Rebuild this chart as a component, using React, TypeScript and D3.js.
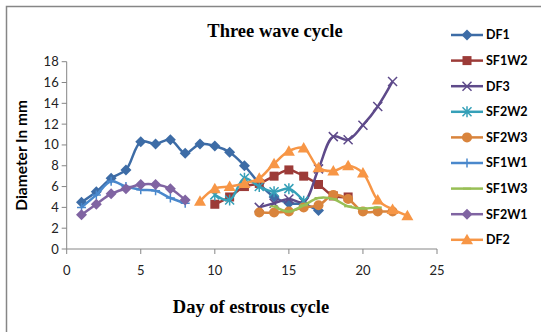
import * as d3 from "d3";
import React from "react";

const days1to8 = [1, 2, 3, 4, 5, 6, 7, 8];

const df1Days = [1, 2, 3, 4, 5, 6, 7, 8, 9, 10, 11, 12, 13, 14, 15, 16, 17];
const df1 = [4.5, 5.5, 6.8, 7.6, 10.3, 10.1, 10.5, 9.2, 10.1, 9.9, 9.3, 8.0, 6.3, 5.0, 4.4, 4.3, 3.7];

const sf1w2Days = [10, 11, 12, 13, 14, 15, 16, 17, 18, 19];
const sf1w2 = [4.3, 5.0, 6.0, 6.3, 7.0, 7.6, 7.0, 6.2, 5.1, 5.0];

const df3Days = [13, 14, 15, 16, 17, 18, 19, 20, 21, 22];
const df3 = [4.0, 4.4, 4.8, 4.5, 7.7, 10.8, 10.5, 11.9, 13.7, 16.1];

const sf2w2Days = [10, 11, 12, 13, 14, 15, 16];
const sf2w2 = [5.2, 4.7, 6.8, 6.0, 5.5, 5.8, 4.6];

const sf2w3Days = [13, 14, 15, 16, 17, 18, 19, 20, 21, 22];
const sf2w3 = [3.5, 3.5, 3.6, 4.0, 4.2, 5.2, 4.8, 3.6, 3.6, 3.6];

const sf1w1 = [4.0, 5.2, 6.5, 6.0, 5.7, 5.6, 4.9, 4.4];

const sf1w3Days = [14, 15, 16, 17, 18, 19, 20, 21];
const sf1w3 = [4.1, 3.6, 4.2, 4.9, 4.8, 4.1, 3.9, 4.0];

const sf2w1 = [3.3, 4.3, 5.3, 5.8, 6.2, 6.2, 5.8, 4.7];

const df2Days = [9, 10, 11, 12, 13, 14, 15, 16, 17, 18, 19, 20, 21, 22, 23];
const df2 = [4.6, 5.8, 6.0, 6.3, 6.8, 8.2, 9.4, 9.7, 7.8, 7.5, 8.0, 7.3, 4.7, 3.8, 3.2];

const xTicks = [0, 5, 10, 15, 20, 25];
const yTicks = [0, 2, 4, 6, 8, 10, 12, 14, 16, 18];

type Marker = "diamond" | "square" | "x" | "star" | "circle" | "plus" | "dash" | "triangle";
interface Series { name: string; days: number[]; vals: number[]; color: string; marker: Marker; }

const series: Series[] = [
  { name: "DF1", days: df1Days, vals: df1, color: "#3d6ca6", marker: "diamond" },
  { name: "SF1W2", days: sf1w2Days, vals: sf1w2, color: "#9c3b38", marker: "square" },
  { name: "DF3", days: df3Days, vals: df3, color: "#5e4a8a", marker: "x" },
  { name: "SF2W2", days: sf2w2Days, vals: sf2w2, color: "#35a0b8", marker: "star" },
  { name: "SF2W3", days: sf2w3Days, vals: sf2w3, color: "#d9843c", marker: "circle" },
  { name: "SF1W1", days: days1to8, vals: sf1w1, color: "#4a88cc", marker: "plus" },
  { name: "SF1W3", days: sf1w3Days, vals: sf1w3, color: "#98bf55", marker: "dash" },
  { name: "SF2W1", days: days1to8, vals: sf2w1, color: "#8064a2", marker: "diamond" },
  { name: "DF2", days: df2Days, vals: df2, color: "#f79646", marker: "triangle" },
];

const W = 541, H = 332;
const m = { left: 66.7, right: 104, top: 61.7, bottom: 83 };
const sans = "Lato, 'Open Sans', sans-serif";
const serif = "'Liberation Serif', 'DejaVu Serif', serif";

function MarkerShape({ type, x, y, color }: { type: Marker; x: number; y: number; color: string }) {
  switch (type) {
    case "diamond":
      return <path d={`M${x},${y - 5.5}L${x + 5.5},${y}L${x},${y + 5.5}L${x - 5.5},${y}Z`} fill={color} />;
    case "square":
      return <rect x={x - 4.5} y={y - 4.5} width={9} height={9} fill={color} />;
    case "triangle":
      return <path d={`M${x},${y - 6}L${x + 6},${y + 4.5}L${x - 6},${y + 4.5}Z`} fill={color} />;
    case "circle":
      return <circle cx={x} cy={y} r={5} fill={color} />;
    case "x":
      return <path d={`M${x - 4.5},${y - 4.5}L${x + 4.5},${y + 4.5}M${x + 4.5},${y - 4.5}L${x - 4.5},${y + 4.5}`} stroke={color} strokeWidth={1.5} />;
    case "star":
      return <path d={`M${x - 4.5},${y - 4.5}L${x + 4.5},${y + 4.5}M${x + 4.5},${y - 4.5}L${x - 4.5},${y + 4.5}M${x},${y - 5.5}L${x},${y + 5.5}`} stroke={color} strokeWidth={1.5} />;
    case "plus":
      return <path d={`M${x},${y - 4.5}L${x},${y + 4.5}M${x - 4.5},${y}L${x + 4.5},${y}`} stroke={color} strokeWidth={1.5} />;
    case "dash":
      return <path d={`M${x - 4},${y}L${x + 4},${y}`} stroke={color} strokeWidth={2} />;
  }
}

export default function App() {
  const x = d3.scaleLinear().domain([0, 25]).range([m.left, W - m.right]);
  const y = d3.scaleLinear().domain([0, 18]).range([H - m.bottom, m.top]);
  const line = d3.line<[number, number]>().x(d => x(d[0])).y(d => y(d[1])).curve(d3.curveCatmullRom.alpha(0.5));
  const axisColor = "#868686";
  const legendY0 = 35, legendStep = 25.6;

  return (
    <svg width={W} height={H} style={{ position: "absolute", left: 0, top: 0, background: "#fff" }}>
      <rect x={6.5} y={6.5} width={W + 4} height={H + 4} fill="none" stroke={axisColor} strokeWidth={1.5} />
      <text x={275} y={37} textAnchor="middle" fontFamily={serif} fontWeight="bold" fontSize={18.5} fill="#000">Three wave cycle</text>

      {/* axes */}
      <line x1={x(0)} x2={x(0)} y1={y(18)} y2={y(0)} stroke={axisColor} strokeWidth={1} />
      <line x1={x(0)} x2={x(25)} y1={y(0)} y2={y(0)} stroke={axisColor} strokeWidth={1} />
      {yTicks.map(t => (
        <g key={t}>
          <line x1={x(0) - 5} x2={x(0)} y1={y(t)} y2={y(t)} stroke={axisColor} />
          <text x={x(0) - 8} y={y(t)} dy="0.35em" textAnchor="end" fontFamily={sans} fontSize={13} fill="#222">{t}</text>
        </g>
      ))}
      {xTicks.map(t => (
        <g key={t}>
          <line x1={x(t)} x2={x(t)} y1={y(0)} y2={y(0) + 5} stroke={axisColor} />
          <text x={x(t)} y={y(0) + 26} textAnchor="middle" fontFamily={sans} fontSize={13} fill="#222">{t}</text>
        </g>
      ))}
      <text transform={`translate(27,${(y(0) + y(18)) / 2}) rotate(-90)`} textAnchor="middle" fontFamily={sans} fontWeight="bold" fontSize={15.5} fill="#000">Diameter In mm</text>
      <text x={251} y={313} textAnchor="middle" fontFamily={serif} fontWeight="bold" fontSize={18.5} fill="#000">Day of estrous cycle</text>

      {series.map(s => {
        const pts = s.days.map((d, i) => [d, s.vals[i]] as [number, number]);
        return (
          <g key={s.name}>
            <path d={line(pts) ?? undefined} fill="none" stroke={s.color} strokeWidth={2.5} strokeLinejoin="round" />
            {pts.map((p, i) => <MarkerShape key={i} type={s.marker} x={x(p[0])} y={y(p[1])} color={s.color} />)}
          </g>
        );
      })}

      {/* legend */}
      {series.map((s, i) => {
        const ly = legendY0 + i * legendStep;
        return (
          <g key={s.name}>
            <line x1={451} x2={483} y1={ly} y2={ly} stroke={s.color} strokeWidth={2.5} />
            <MarkerShape type={s.marker} x={467} y={ly} color={s.color} />
            <text x={486} y={ly} dy="0.35em" fontFamily={sans} fontWeight="bold" fontSize={12.5} fill="#000">{s.name}</text>
          </g>
        );
      })}
    </svg>
  );
}
